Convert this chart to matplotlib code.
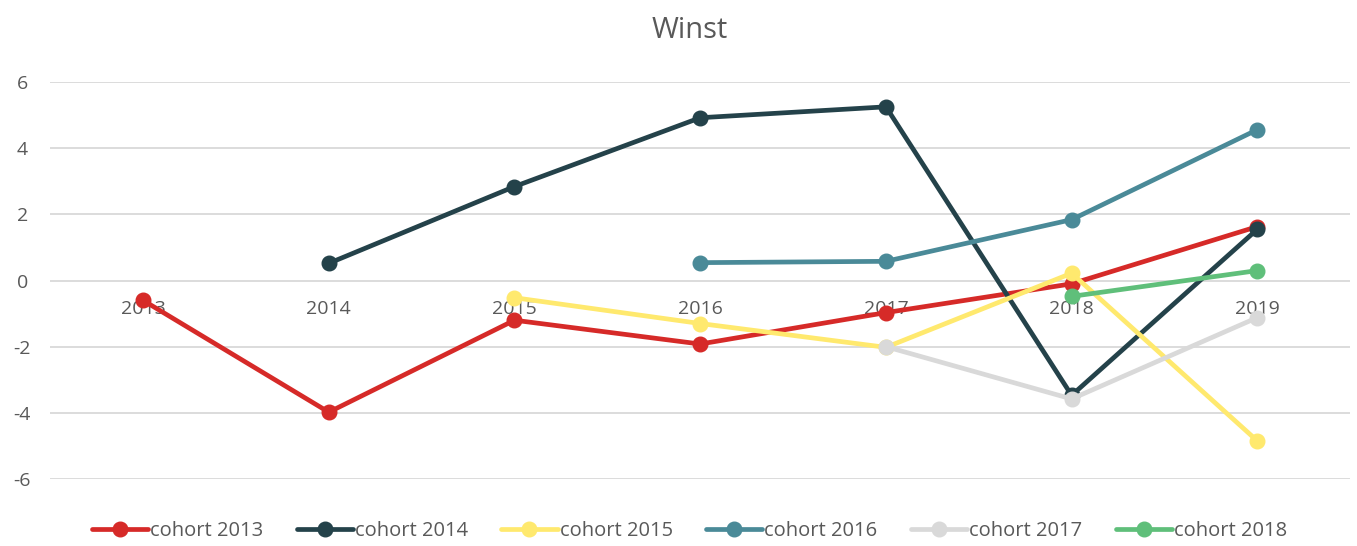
import matplotlib.pyplot as plt
import numpy as np

plt.rcParams["font.family"] = ["Open Sans", "DejaVu Sans"]
plt.rcParams["axes.unicode_minus"] = False

years = ["2013", "2014", "2015", "2016", "2017", "2018", "2019"]
labels = ["cohort 2013", "cohort 2014", "cohort 2015", "cohort 2016", "cohort 2017", "cohort 2018"]
colors = ["#D62A28", "#24424A", "#FFE96E", "#4A8A98", "#D9D9D9", "#5FBF7A"]

# values per cohort, None where the cohort has no data
c2013 = [-0.6, -3.98, -1.2, -1.92, -0.97, -0.1, 1.63]
c2014 = [None, 0.52, 2.84, 4.92, 5.25, -3.47, 1.55]
c2015 = [None, None, -0.52, -1.3, -2.02, 0.22, -4.85]
c2016 = [None, None, None, 0.54, 0.58, 1.84, 4.56]
c2017 = [None, None, None, None, -2.0, -3.58, -1.12]
c2018 = [None, None, None, None, None, -0.48, 0.3]
series = [c2013, c2014, c2015, c2016, c2017, c2018]

fig = plt.figure(figsize=(13.57, 5.46), dpi=100)
ax = fig.add_axes([0.037, 0.1227, 0.958, 0.7271])

x = np.arange(len(years))
for vals, lab, col in zip(series, labels, colors):
    y = np.array([np.nan if v is None else v for v in vals])
    ax.plot(x, y, color=col, lw=3.4, marker="o", markersize=10.5, label=lab,
            solid_capstyle="round", zorder=3)

ax.set_xlim(-0.5, 6.5)
ax.set_ylim(-6, 6)
ax.set_yticks([-6, -4, -2, 0, 2, 4, 6])
ax.set_xticks(x)
ax.set_xticklabels(years)
ax.yaxis.grid(True, color="#D9D9D9", lw=1.3)
ax.set_axisbelow(True)
for s in ax.spines.values():
    s.set_visible(False)
ax.spines["bottom"].set_position(("data", 0))
ax.tick_params(axis="x", length=0, pad=14, labelsize=14, labelcolor="#595959")
ax.tick_params(axis="y", length=0, pad=20, labelsize=14, labelcolor="#595959")
for t in ax.get_yticklabels():
    t.set_horizontalalignment("center")

fig.suptitle("Winst", x=0.508, y=0.97, fontsize=21, color="#595959")

leg = fig.legend(loc="center", bbox_to_anchor=(0.508, 0.028), ncol=6, frameon=False,
                 fontsize=14.5, handlelength=2.8, handletextpad=0.1, columnspacing=1.65,
                 labelcolor="#595959")

fig.savefig("out.png", dpi=100)
